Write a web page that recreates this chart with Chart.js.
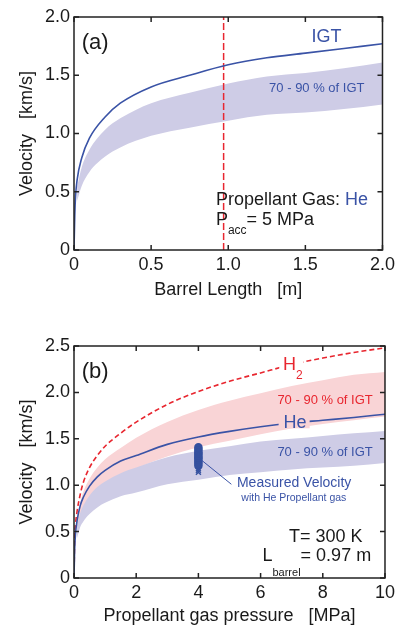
<!DOCTYPE html>
<html>
<head>
<meta charset="utf-8">
<script src="https://cdn.jsdelivr.net/npm/chart.js@4.4.1/dist/chart.umd.min.js"></script>
<style>
  body { margin: 0; background: #fff; }
  canvas { position: absolute; left: 0; }
  #chartA { top: 0; }
  #chartB { top: 310px; }
</style>
</head>
<body>
<canvas id="chartA" width="399" height="310"></canvas>
<canvas id="chartB" width="399" height="319"></canvas>
<script>
// (a) velocity vs barrel length, He at 5 MPa
const lengthM = [0, 0.005, 0.01, 0.02, 0.05, 0.1, 0.2, 0.3, 0.5, 0.75, 1.0, 1.25, 1.5, 1.75, 2.0];
const igtLength = [0, 0.30, 0.46, 0.60, 0.79, 0.96, 1.14, 1.26, 1.40, 1.50, 1.59, 1.65, 1.69, 1.73, 1.77];
const bandLengthM = [0.02, 0.05, 0.1, 0.2, 0.3, 0.5, 0.75, 1.0, 1.25, 1.5, 1.75, 2.0];
const band90Length = [0.54, 0.71, 0.86, 1.03, 1.13, 1.26, 1.35, 1.43, 1.49, 1.52, 1.56, 1.61];
const band70Length = [0.42, 0.55, 0.67, 0.80, 0.88, 0.98, 1.05, 1.11, 1.16, 1.18, 1.21, 1.25];
const barrelUsed = 0.97;
const xTicksA = ['0', '0.5', '1.0', '1.5', '2.0'];
const yTicksA = ['0', '0.5', '1.0', '1.5', '2.0'];

// (b) velocity vs propellant pressure
const pressureMPa = [0, 0.02, 0.05, 0.1, 0.2, 0.3, 0.5, 0.75, 1, 1.5, 2, 3, 4, 5, 6, 7, 8, 9, 10];
const igtH2 = [0, 0.40, 0.58, 0.72, 0.90, 1.03, 1.19, 1.32, 1.42, 1.56, 1.68, 1.87, 2.01, 2.12, 2.21, 2.30, 2.37, 2.43, 2.48];
const igtHe = [0, 0.30, 0.48, 0.62, 0.78, 0.87, 0.99, 1.09, 1.16, 1.26, 1.32, 1.44, 1.52, 1.58, 1.63, 1.67, 1.70, 1.73, 1.765];
const bandPressureMPa = [0.1, 0.2, 0.3, 0.5, 0.75, 1, 1.5, 2, 3, 4, 5, 6, 7, 8, 9, 10];
const h2Band90 = [0.65, 0.81, 0.93, 1.07, 1.19, 1.28, 1.40, 1.51, 1.68, 1.81, 1.91, 1.99, 2.07, 2.13, 2.19, 2.22];
const h2Band70 = [0.50, 0.63, 0.72, 0.83, 0.92, 0.99, 1.09, 1.18, 1.31, 1.41, 1.48, 1.55, 1.61, 1.66, 1.70, 1.74];
const heBand90 = [0.56, 0.70, 0.78, 0.89, 0.98, 1.04, 1.13, 1.19, 1.30, 1.37, 1.42, 1.47, 1.50, 1.53, 1.56, 1.585];
const heBand70 = [0.43, 0.55, 0.61, 0.69, 0.76, 0.81, 0.88, 0.92, 1.01, 1.06, 1.11, 1.14, 1.17, 1.19, 1.21, 1.24];
const measuredPressure = [4, 4, 4, 4, 4, 4, 4, 4, 4, 4, 4, 4, 4, 4];
const measuredVelocity = [1.41, 1.39, 1.37, 1.35, 1.34, 1.32, 1.30, 1.29, 1.27, 1.25, 1.23, 1.21, 1.16, 1.14];
const xTicksB = ['0', '2', '4', '6', '8', '10'];
const yTicksB = ['0', '0.5', '1.0', '1.5', '2.0', '2.5'];

const FONT = '"Liberation Sans", Arial, Helvetica, sans-serif';
const BLUE = '#3a53a6';
const RED = '#e8262f';
const LAVENDER = '#cecce6';
const PINK = '#f9d4d6';
const INK = '#1a1a1a';

Chart.defaults.font.family = FONT;
Chart.defaults.font.size = 18;
Chart.defaults.color = INK;

const pts = (xs, ys) => xs.map((x, i) => ({ x: x, y: ys[i] }));

function line(data, color, extra) {
    return Object.assign({
        data: data, borderColor: color, borderWidth: 1.6, pointRadius: 0,
        fill: false, cubicInterpolationMode: 'monotone', order: 0
    }, extra || {});
}

function band(upper, lower, color) {
    return [
        { data: upper, borderWidth: 0, pointRadius: 0, backgroundColor: color, fill: '+1', cubicInterpolationMode: 'monotone', order: 2 },
        { data: lower, borderWidth: 0, pointRadius: 0, fill: false, cubicInterpolationMode: 'monotone', order: 2 }
    ];
}

// draws a row of text pieces: [text, size, color, dy]
function runs(ctx, x, y, list) {
    ctx.textBaseline = 'middle';
    ctx.textAlign = 'left';
    let cx = x;
    list.forEach(([text, size, color, dy]) => {
        ctx.font = size + 'px ' + FONT;
        ctx.fillStyle = color;
        ctx.fillText(text, cx, y + (dy || 0));
        cx += ctx.measureText(text).width;
    });
    return cx;
}

function axis(min, max, step, labels, titleText, pad) {
    return {
        type: 'linear', min: min, max: max,
        grid: { display: false, drawTicks: false },
        border: { display: false },
        ticks: { stepSize: step, padding: 4, color: INK, callback: (v, i) => labels[i] },
        title: { display: true, text: titleText, color: INK, font: { size: 18 }, padding: pad }
    };
}

const frameTicks = {
    id: 'frameTicks',
    afterDatasetsDraw(chart) {
        const { ctx, chartArea: a, scales: { x, y } } = chart;
        ctx.save();
        ctx.strokeStyle = '#222';
        ctx.lineWidth = 1.5;
        ctx.strokeRect(a.left, a.top, a.width, a.height);
        ctx.beginPath();
        x.ticks.forEach(t => {
            const px = x.getPixelForValue(t.value);
            ctx.moveTo(px, a.bottom); ctx.lineTo(px, a.bottom - 5);
            ctx.moveTo(px, a.top); ctx.lineTo(px, a.top + 5);
        });
        y.ticks.forEach(t => {
            const py = y.getPixelForValue(t.value);
            ctx.moveTo(a.left, py); ctx.lineTo(a.left + 5, py);
            ctx.moveTo(a.right, py); ctx.lineTo(a.right - 5, py);
        });
        ctx.stroke();
        ctx.restore();
    }
};

function baseOptions(xAxis, yAxis, padTop, xHeight) {
    xAxis.afterFit = s => { s.height = xHeight; };
    yAxis.afterFit = s => { s.width = 74; };
    return {
        responsive: false,
        animation: false,
        devicePixelRatio: 1,
        layout: { padding: { left: 0, top: padTop, right: 14, bottom: 0 } },
        plugins: { legend: { display: false }, tooltip: { enabled: false } },
        scales: { x: xAxis, y: yAxis }
    };
}

// ---------- chart (a)
const labelsA = {
    id: 'labelsA',
    afterDraw(chart) {
        const { ctx, scales: { x, y } } = chart;
        ctx.save();
        runs(ctx, x.getPixelForValue(0.05), y.getPixelForValue(1.78), [['(a)', 22, INK]]);
        runs(ctx, x.getPixelForValue(1.54), y.getPixelForValue(1.83), [['IGT', 18, BLUE]]);
        runs(ctx, x.getPixelForValue(1.265), y.getPixelForValue(1.384), [['70 - 90 % of IGT', 13, BLUE]]);
        runs(ctx, x.getPixelForValue(0.92), y.getPixelForValue(0.427), [['Propellant Gas: ', 18, INK], ['He', 18, BLUE]]);
        runs(ctx, x.getPixelForValue(0.92), y.getPixelForValue(0.259), [['P', 18, INK], ['acc', 12, INK, 11], ['= 5 MPa', 18, INK]]);
        ctx.restore();
    }
};

new Chart(document.getElementById('chartA'), {
    type: 'line',
    data: {
        datasets: [
            line(pts(lengthM, igtLength), BLUE),
            line([{ x: barrelUsed, y: 0 }, { x: barrelUsed, y: 2 }], RED, { borderWidth: 1.5, borderDash: [7, 3], cubicInterpolationMode: 'default', order: 1 }),
            ...band(pts(bandLengthM, band90Length), pts(bandLengthM, band70Length), LAVENDER)
        ]
    },
    options: baseOptions(
        axis(0, 2, 0.5, xTicksA, 'Barrel Length   [m]', { top: 0, bottom: 9 }),
        axis(0, 2, 0.5, yTicksA, 'Velocity   [km/s]', { top: 16, bottom: 0 }),
        17, 60),
    plugins: [frameTicks, labelsA]
});

// ---------- chart (b)
const labelsB = {
    id: 'labelsB',
    afterDraw(chart) {
        const { ctx, scales: { x, y } } = chart;
        const px = v => x.getPixelForValue(v);
        const py = v => y.getPixelForValue(v);
        ctx.save();
        // leader line to measured points
        ctx.strokeStyle = BLUE;
        ctx.lineWidth = 1;
        ctx.beginPath();
        ctx.moveTo(px(4.1), py(1.27));
        ctx.lineTo(px(5.06), py(1.01));
        ctx.stroke();

        runs(ctx, px(0.25), py(2.218), [['(b)', 22, INK]]);
        // H2 label breaks the dashed line
        ctx.fillStyle = '#fff';
        ctx.fillRect(px(6.6), py(2.29) - 10, 24, 22);
        runs(ctx, px(6.72), py(2.29), [['H', 18, RED], ['2', 12, RED, 10]]);
        runs(ctx, px(6.54), py(1.914), [['70 - 90 % of IGT', 13, RED]]);
        // He label breaks the solid line
        ctx.fillStyle = PINK;
        ctx.fillRect(px(6.58), py(1.667) - 7, 31, 12);
        runs(ctx, px(6.74), py(1.667), [['He', 18, BLUE]]);
        runs(ctx, px(6.54), py(1.358), [['70 - 90 % of IGT', 13, BLUE]]);
        runs(ctx, px(5.24), py(1.018), [['Measured Velocity', 14, BLUE]]);
        runs(ctx, px(5.38), py(0.857), [['with He Propellant gas', 10.5, BLUE]]);
        runs(ctx, px(6.91), py(0.441), [['T= 300 K', 18, INK]]);
        runs(ctx, px(6.06), py(0.237), [['L', 18, INK], ['barrel', 11, INK, 17], ['= 0.97 m', 18, INK]]);
        ctx.restore();
    }
};

new Chart(document.getElementById('chartB'), {
    type: 'line',
    data: {
        datasets: [
            line(pts(pressureMPa, igtHe), BLUE),
            line(pts(pressureMPa, igtH2), RED, { borderDash: [5, 3] }),
            {
                type: 'scatter',
                data: pts(measuredPressure, measuredVelocity),
                showLine: false,
                pointStyle: measuredVelocity.map((v, i) => i < measuredVelocity.length - 2 ? 'circle' : 'crossRot'),
                pointRadius: 3.5,
                pointBorderWidth: 1.5,
                pointBackgroundColor: '#34509f',
                pointBorderColor: '#34509f',
                order: 0
            },
            ...band(pts(bandPressureMPa, heBand90), pts(bandPressureMPa, heBand70), LAVENDER),
            ...band(pts(bandPressureMPa, h2Band90), pts(bandPressureMPa, h2Band70), PINK).map(d => Object.assign(d, { order: 3 }))
        ]
    },
    options: baseOptions(
        axis(0, 10, 2, xTicksB, 'Propellant gas pressure   [MPa]', { top: 0, bottom: 2 }),
        axis(0, 2.5, 0.5, yTicksB, 'Velocity   [km/s]', { top: 16, bottom: 0 }),
        36, 51),
    plugins: [frameTicks, labelsB]
});
</script>
</body>
</html>
